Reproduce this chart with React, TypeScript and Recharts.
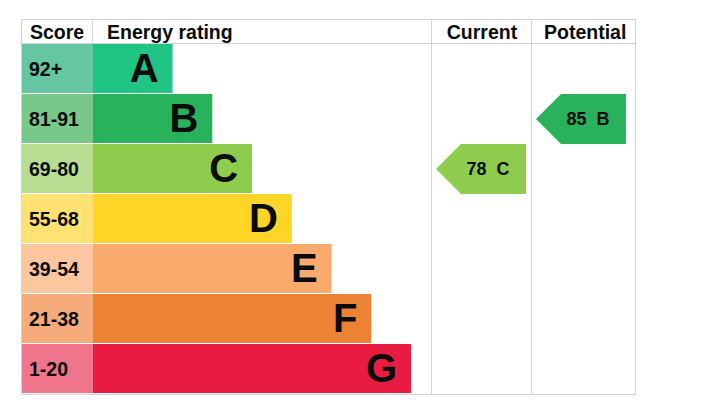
import React from 'react';
import { BarChart, Bar, XAxis, YAxis, Customized } from 'recharts';

const bands = ['A', 'B', 'C', 'D', 'E', 'F', 'G'];
const scoreRanges = ['92+', '81-91', '69-80', '55-68', '39-54', '21-38', '1-20'];
const barLengths = [2, 3, 4, 5, 6, 7, 8];
const bandColors = ['#20c485', '#29b25c', '#8dcc4d', '#ffd528', '#f9aa6c', '#ee8234', '#e71c40'];
const scoreColors = ['#66c6a1', '#78c889', '#b8de91', '#ffe271', '#fcc69e', '#f5ac7a', '#f0748c'];
const headers = ['Score', 'Energy rating', 'Current', 'Potential'];
const currentScore = 78;
const currentBand = 'C';
const potentialScore = 85;
const potentialBand = 'B';

const data = bands.map((b, i) => ({
  band: b,
  score: scoreRanges[i],
  length: barLengths[i],
  color: bandColors[i],
  scoreColor: scoreColors[i],
}));

const W = 715;
const H = 402;
const FONT = '"Liberation Sans", Arial, Helvetica, sans-serif';
const T_LEFT = 21;
const T_TOP = 19;
const HEAD_B = 44;
const T_BOTTOM = 394;
const SCORE_R = 93;
const CUR_L = 431;
const POT_L = 531;
const T_RIGHT = 635;
const ROW_H = (T_BOTTOM - HEAD_B) / bands.length;
const LINE = '#d3d3d3';

const Table = () => (
  <g>
    <rect x={T_LEFT} y={T_TOP} width={T_RIGHT - T_LEFT} height={HEAD_B - T_TOP} fill="#fff" />
    <line x1={T_LEFT} x2={T_RIGHT + 1} y1={T_TOP + 0.5} y2={T_TOP + 0.5} stroke={LINE} />
    <line x1={T_LEFT} x2={T_RIGHT + 1} y1={HEAD_B - 0.5} y2={HEAD_B - 0.5} stroke={LINE} />
    <line x1={T_LEFT} x2={T_RIGHT + 1} y1={T_BOTTOM + 0.5} y2={T_BOTTOM + 0.5} stroke={LINE} />
    <line x1={T_LEFT + 0.5} x2={T_LEFT + 0.5} y1={T_TOP} y2={T_BOTTOM + 1} stroke={LINE} />
    <line x1={SCORE_R - 0.5} x2={SCORE_R - 0.5} y1={T_TOP} y2={HEAD_B} stroke={LINE} />
    <line x1={CUR_L + 0.5} x2={CUR_L + 0.5} y1={T_TOP} y2={T_BOTTOM + 1} stroke={LINE} />
    <line x1={POT_L + 0.5} x2={POT_L + 0.5} y1={T_TOP} y2={T_BOTTOM + 1} stroke={LINE} />
    <line x1={T_RIGHT + 0.5} x2={T_RIGHT + 0.5} y1={T_TOP} y2={T_BOTTOM + 1} stroke={LINE} />
    <g fontFamily={FONT} fontWeight="bold" fontSize={19.5} fill="#0b0c0c">
      <text x={(T_LEFT + SCORE_R) / 2} y={39} textAnchor="middle">{headers[0]}</text>
      <text x={SCORE_R + 14} y={39}>{headers[1]}</text>
      <text x={(CUR_L + POT_L) / 2 + 1} y={39} textAnchor="middle">{headers[2]}</text>
      <text x={POT_L + 13} y={39}>{headers[3]}</text>
    </g>
  </g>
);

const ScoreTick = (props: any) => {
  const { y, index } = props;
  const d = data[index];
  return (
    <g>
      <rect x={T_LEFT + 1} y={y - ROW_H / 2} width={SCORE_R - T_LEFT - 1} height={ROW_H - 1} fill={d.scoreColor} />
      <text x={29} y={y + 6.5} fontFamily={FONT} fontWeight="bold" fontSize={19.5} fill="#0b0c0c">
        {d.score}
      </text>
    </g>
  );
};

const Arrow = ({ left, y, color, score, band }: any) => {
  const top = y - ROW_H / 2;
  const bottom = y + ROW_H / 2;
  const tip = left + 5;
  const pts = `${tip},${y} ${tip + 25},${top} ${tip + 90},${top} ${tip + 90},${bottom} ${tip + 25},${bottom}`;
  return (
    <g>
      <polygon points={pts} fill={color} />
      <text x={tip + 30.5} y={y + 6} fontFamily={FONT} fontWeight="bold" fontSize={18} fill="#0b0c0c">
        <tspan>{score}</tspan>
        <tspan dx={10}>{band}</tspan>
      </text>
    </g>
  );
};

const RatingTick = (props: any) => {
  const { y, payload } = props;
  const v = payload.value;
  return (
    <g>
      {v === currentBand && (
        <Arrow left={CUR_L} y={y} color={bandColors[bands.indexOf(currentBand)]} score={currentScore} band={currentBand} />
      )}
      {v === potentialBand && (
        <Arrow left={POT_L} y={y} color={bandColors[bands.indexOf(potentialBand)]} score={potentialScore} band={potentialBand} />
      )}
    </g>
  );
};

const BandBar = (props: any) => {
  const { x, y, width, height, payload } = props;
  return (
    <g>
      <rect x={x} y={y} width={width} height={height - 1} fill={payload.color} />
      <text
        x={x + width - 14}
        y={y + height / 2 + 13}
        textAnchor="end"
        fontFamily={FONT}
        fontWeight="bold"
        fontSize={40}
        fill="#0b0c0c"
      >
        {payload.band}
      </text>
    </g>
  );
};

export default function App() {
  return (
    <div style={{ position: 'absolute', left: 0, top: 0, width: W, height: H, background: '#fff' }}>
      <BarChart
        width={W}
        height={H}
        data={data}
        layout="vertical"
        margin={{ top: HEAD_B, bottom: H - T_BOTTOM, left: T_LEFT, right: W - T_RIGHT }}
        barCategoryGap={0}
      >
        <Customized component={Table} />
        <XAxis type="number" domain={[0, 8.5]} hide allowDataOverflow />
        <YAxis
          type="category"
          dataKey="band"
          width={SCORE_R - T_LEFT}
          axisLine={false}
          tickLine={false}
          interval={0}
          tick={(p: any) => <ScoreTick {...p} />}
        />
        <YAxis
          yAxisId="right"
          orientation="right"
          type="category"
          dataKey="band"
          width={T_RIGHT - CUR_L}
          axisLine={false}
          tickLine={false}
          interval={0}
          tick={(p: any) => <RatingTick {...p} />}
        />
        <Bar dataKey="length" isAnimationActive={false} shape={(p: any) => <BandBar {...p} />} />
      </BarChart>
    </div>
  );
}
